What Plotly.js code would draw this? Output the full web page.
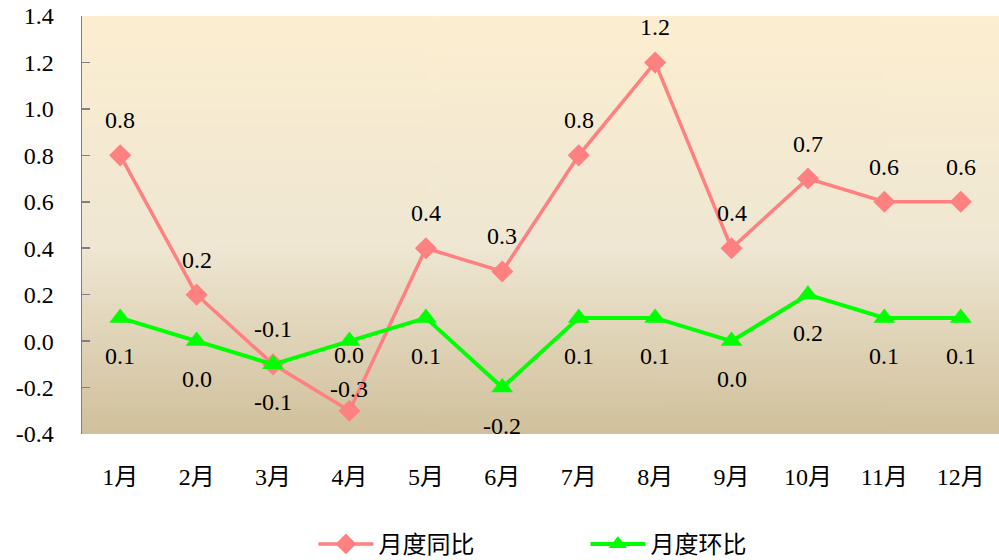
<!DOCTYPE html>
<html>
<head>
<meta charset="utf-8">
<script src="https://cdn.plot.ly/plotly-3.0.1.min.js"></script>
<style>
html,body{margin:0;padding:0;background:#fff;}
#chart{width:999px;height:560px;}
</style>
</head>
<body>
<div id="chart"></div>
<script>
var months = ["1月","2月","3月","4月","5月","6月","7月","8月","9月","10月","11月","12月"];
var yoy = [0.8, 0.2, -0.1, -0.3, 0.4, 0.3, 0.8, 1.2, 0.4, 0.7, 0.6, 0.6];
var mom = [0.1, 0.0, -0.1, 0.0, 0.1, -0.2, 0.1, 0.1, 0.0, 0.2, 0.1, 0.1];
var yTicks = [-0.4, -0.2, 0.0, 0.2, 0.4, 0.6, 0.8, 1.0, 1.2, 1.4];

var FONT = "Liberation Serif, Times New Roman, Noto Sans CJK SC, serif";

// vertical gradient background for plot area
var cv = document.createElement('canvas');
cv.width = 4; cv.height = 400;
var ctx = cv.getContext('2d');
var g = ctx.createLinearGradient(0, 0, 0, 400);
g.addColorStop(0, '#FCEED0');
g.addColorStop(0.55, '#EFE7D3');
g.addColorStop(1, '#D0C09B');
ctx.fillStyle = g;
ctx.fillRect(0, 0, 4, 400);
var bgURL = cv.toDataURL('image/png');

var traces = [
  {
    x: months, y: yoy, name: '月度同比', type: 'scatter', mode: 'lines+markers',
    line: {color: '#FF8080', width: 3.5},
    marker: {symbol: 'diamond', size: 17, color: '#FF8080'},
    cliponaxis: false
  },
  {
    x: months, y: mom, name: '月度环比', type: 'scatter', mode: 'lines+markers',
    line: {color: '#00FF00', width: 4},
    marker: {symbol: 'triangle-up', size: 19, color: '#00FF00'},
    cliponaxis: false
  }
];

var annotations = [];
yoy.forEach(function(v, i){
  var s = 35;
  if (months[i] === '4月') s = 22;
  annotations.push({x: months[i], y: v, text: v.toFixed(1), showarrow: false,
    yshift: s, font: {family: FONT, size: 24, color: '#000'}});
});
mom.forEach(function(v, i){
  var s = -38;
  if (months[i] === '4月') s = -14;
  annotations.push({x: months[i], y: v, text: v.toFixed(1), showarrow: false,
    yshift: s, font: {family: FONT, size: 24, color: '#000'}});
});

var layout = {
  width: 999, height: 560,
  margin: {l: 82, r: 0, t: 16, b: 126, autoexpand: false},
  paper_bgcolor: '#ffffff',
  plot_bgcolor: 'rgba(0,0,0,0)',
  font: {family: FONT, size: 24, color: '#000'},
  showlegend: true,
  legend: {
    orientation: 'h', x: 0.549, xanchor: 'center', y: -0.21, yanchor: 'top',
    font: {family: FONT, size: 24, color: '#000'},
    itemwidth: 55, entrywidth: 202, bgcolor: 'rgba(0,0,0,0)'
  },
  xaxis: {
    type: 'category', range: [-0.5, 11.5], showgrid: false, zeroline: false,
    showline: false, ticks: '', ticklabelstandoff: 26, fixedrange: true,
    tickfont: {family: FONT, size: 24, color: '#000'}
  },
  yaxis: {
    range: [-0.4, 1.4], tickvals: yTicks, ticktext: yTicks.map(function(v){return v.toFixed(1);}),
    showgrid: false, zeroline: false, showline: true, linecolor: '#7f7f7f', linewidth: 1.5,
    ticks: 'inside', ticklen: 8, tickcolor: '#7f7f7f', tickwidth: 1.5,
    ticklabelstandoff: 22, fixedrange: true,
    tickfont: {family: FONT, size: 24, color: '#000'}
  },
  images: [{
    source: bgURL, xref: 'paper', yref: 'paper', x: 0, y: 1, sizex: 1, sizey: 1,
    xanchor: 'left', yanchor: 'top', sizing: 'stretch', layer: 'below'
  }],
  annotations: annotations
};

Plotly.newPlot('chart', traces, layout, {displayModeBar: false, staticPlot: true});
</script>
</body>
</html>
